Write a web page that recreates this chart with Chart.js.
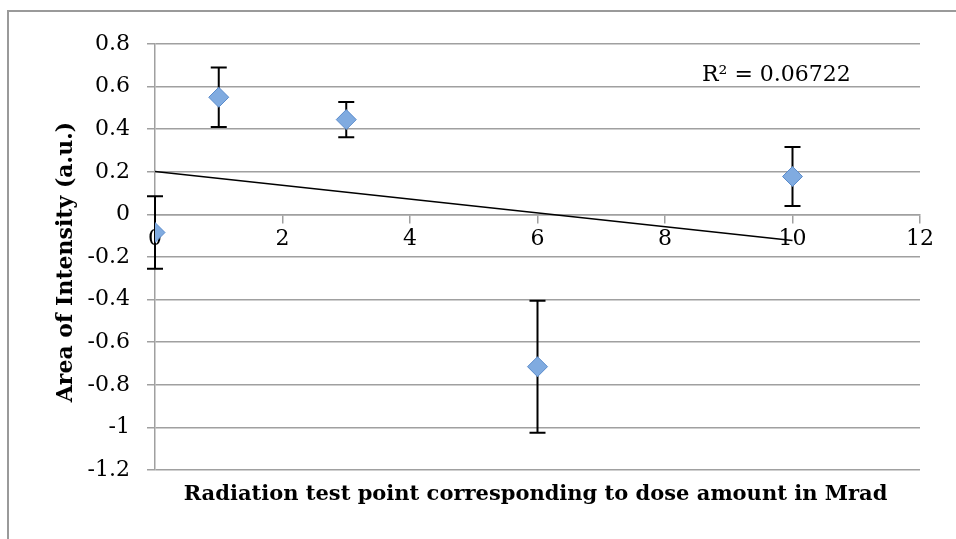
<!DOCTYPE html>
<html>
<head>
<meta charset="utf-8">
<script src="https://cdn.jsdelivr.net/npm/chart.js@4.4.0/dist/chart.umd.min.js"></script>
<style>
  body { margin: 0; background: #fff; }
  #wrap { position: relative; width: 956px; height: 539px; overflow: hidden; }
  #frame { position: absolute; left: 7px; top: 10px; width: 960px; height: 540px;
           border-left: 2px solid #9a9a9a; border-top: 2px solid #9a9a9a; box-sizing: border-box; }
  canvas { position: absolute; left: 0; top: 0; }
</style>
</head>
<body>
<div id="wrap">
  <div id="frame"></div>
  <canvas id="chart" width="956" height="539"></canvas>
</div>
<script>
// dose points and measured area
const doses = [0, 1, 3, 6, 10];
const areas = [-0.085, 0.55, 0.445, -0.715, 0.178];
const errs = [0.17, 0.14, 0.083, 0.31, 0.138];

// linear trendline end points
const trendX = [0, 10];
const trendY = [0.202, -0.122];
const rSquared = 'R² = 0.06722';

const xTicks = [0, 2, 4, 6, 8, 10, 12];
const yTicks = [0.8, 0.6, 0.4, 0.2, 0, -0.2, -0.4, -0.6, -0.8, -1, -1.2];

const xTitle = 'Radiation test point corresponding to dose amount in Mrad';
const yTitle = 'Area of Intensity (a.u.)';

const serif = '"DejaVu Serif", "Liberation Serif", serif';

const errorBars = {
    id: 'errorBars',
    beforeDatasetsDraw(chart) {
        const ctx = chart.ctx;
        const xs = chart.scales.x, ys = chart.scales.y;
        ctx.save();
        ctx.strokeStyle = '#000';
        ctx.lineWidth = 2;
        doses.forEach((d, i) => {
            const px = xs.getPixelForValue(d);
            const top = ys.getPixelForValue(areas[i] + errs[i]);
            const bot = ys.getPixelForValue(areas[i] - errs[i]);
            ctx.beginPath();
            ctx.moveTo(px, top); ctx.lineTo(px, bot);
            ctx.moveTo(px - 8, top); ctx.lineTo(px + 8, top);
            ctx.moveTo(px - 8, bot); ctx.lineTo(px + 8, bot);
            ctx.stroke();
        });
        ctx.restore();
    }
};

const labels = {
    id: 'labels',
    afterDraw(chart) {
        const ctx = chart.ctx;
        const a = chart.chartArea;
        ctx.save();
        ctx.fillStyle = '#000';
        ctx.textBaseline = 'middle';
        ctx.font = '22px ' + serif;
        ctx.fillText(rSquared, 702, 75);

        ctx.textAlign = 'center';
        ctx.font = 'bold 21px ' + serif;
        ctx.fillText(xTitle, (a.left + a.right) / 2 - 2, 495);

        ctx.font = 'bold 22px ' + serif;
        ctx.translate(66, 262);
        ctx.rotate(-Math.PI / 2);
        ctx.fillText(yTitle, 0, 0);
        ctx.restore();
    }
};

new Chart(document.getElementById('chart'), {
    type: 'scatter',
    data: {
        datasets: [{
            label: 'trend',
            type: 'line',
            data: trendX.map((x, i) => ({ x: x, y: trendY[i] })),
            borderColor: '#000',
            borderWidth: 1.5,
            pointRadius: 0,
            order: 2
        }, {
            label: 'area',
            data: doses.map((x, i) => ({ x: x, y: areas[i] })),
            pointStyle: 'rectRot',
            pointRadius: 10,
            backgroundColor: '#80abe0',
            borderColor: '#5a8bcb',
            borderWidth: 1,
            order: 1
        }]
    },
    options: {
        responsive: false,
        animation: false,
        layout: { padding: { left: 0, right: 36, top: 44, bottom: 69 } },
        plugins: { legend: { display: false }, tooltip: { enabled: false } },
        scales: {
            x: {
                type: 'linear',
                min: 0, max: 12,
                position: { y: 0 },
                afterBuildTicks: s => { s.ticks = xTicks.map(v => ({ value: v })); },
                grid: { drawOnChartArea: false, drawTicks: true, tickLength: 8, color: '#a0a0a0', lineWidth: 1.5 },
                border: { color: '#a0a0a0', width: 1.5 },
                ticks: { color: '#000', font: { family: serif, size: 22 }, padding: 4, maxRotation: 0 }
            },
            y: {
                min: -1.2, max: 0.8,
                afterBuildTicks: s => { s.ticks = yTicks.map(v => ({ value: v })); },
                afterFit: s => { s.width = 155; },
                grid: { color: '#a0a0a0', lineWidth: 1.5, tickLength: 8 },
                border: { color: '#a0a0a0', width: 1.5 },
                ticks: { color: '#000', font: { family: serif, size: 22 }, padding: 17,
                         callback: v => String(v) }
            }
        }
    },
    plugins: [errorBars, labels]
});
</script>
</body>
</html>
